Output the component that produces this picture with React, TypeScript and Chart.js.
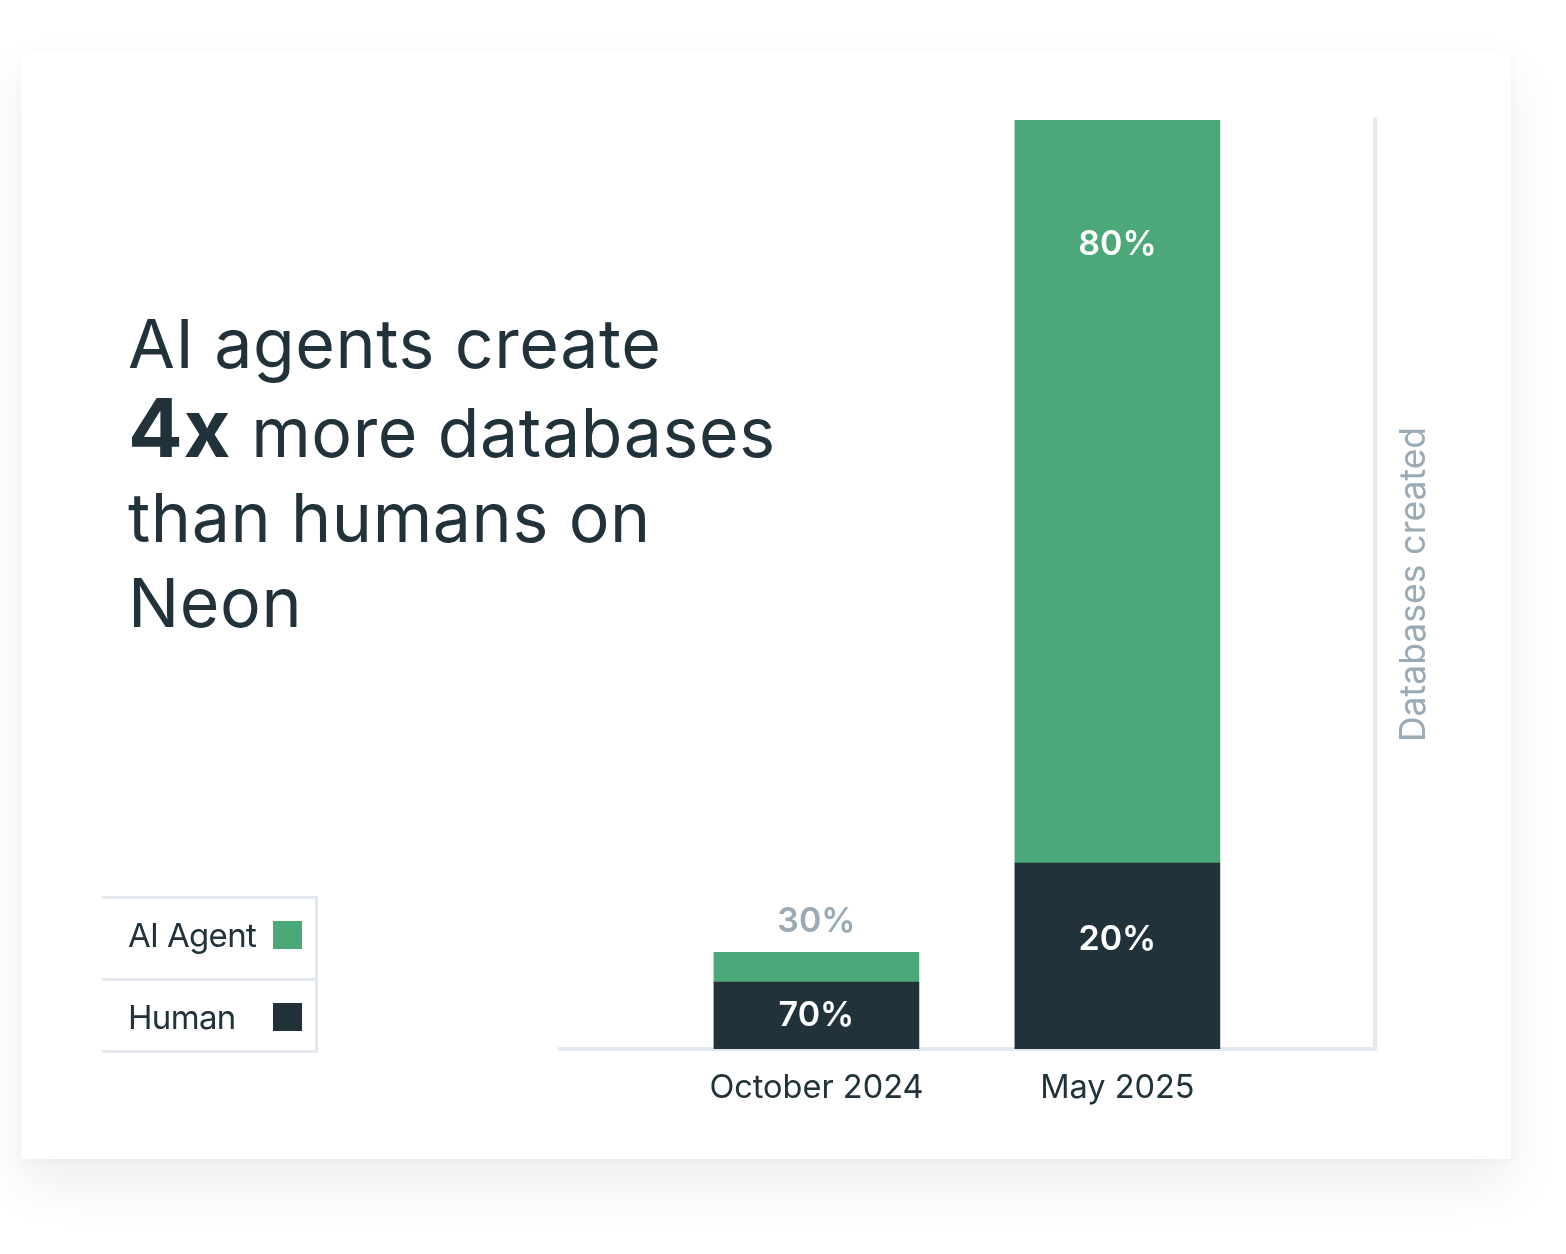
import React, { useEffect, useRef } from "react";
import { Chart, registerables } from "chart.js";

Chart.register(...registerables);

const categories = ["October 2024", "May 2025"];
const seriesNames = ["AI Agent", "Human"];
const humanValues = [7.2, 20];
const aiValues = [3.2, 80];
const humanShareLabels = ["70%", "20%"];
const aiShareLabels = ["30%", "80%"];
const titleLines = ["AI agents create", "4x", " more databases", "than humans on", "Neon"];
const yAxisTitle = "Databases created";

const GREEN = "#4ca878";
const DARK = "#21323a";
const AXIS = "#e4e9ef";
const GRAY = "#9aabb5";
const FONT = "Inter, 'Noto Sans', sans-serif";

const barLabelPlugin = {
  id: "barLabels",
  afterDatasetsDraw(chart: any) {
    const ctx = chart.ctx;
    ctx.save();
    ctx.textAlign = "center";
    ctx.textBaseline = "middle";
    ctx.font = `600 34px ${FONT}`;
    chart.data.datasets.forEach((ds: any, di: number) => {
      const meta = chart.getDatasetMeta(di);
      const labels = ds.shareLabels as string[];
      meta.data.forEach((bar: any, i: number) => {
        const top = Math.min(bar.y, bar.base);
        const h = Math.abs(bar.base - bar.y);
        let y: number;
        if (h < 50) {
          ctx.fillStyle = GRAY;
          y = top - 31;
        } else {
          ctx.fillStyle = "#ffffff";
          y = h < 100 ? top + h / 2 : top + Math.min(h * 0.41, 125);
        }
        ctx.fillText(labels[i], bar.x, y);
      });
    });
    ctx.restore();
  },
};

const yTitlePlugin = {
  id: "yTitle",
  afterDraw(chart: any) {
    const { ctx, chartArea } = chart;
    ctx.save();
    ctx.translate(chartArea.right + 39, (chartArea.top + chartArea.bottom) / 2);
    ctx.rotate(-Math.PI / 2);
    ctx.textAlign = "center";
    ctx.textBaseline = "middle";
    ctx.font = `400 35.5px ${FONT}`;
    ctx.fillStyle = GRAY;
    ctx.fillText(yAxisTitle, 0, 0);
    ctx.restore();
  },
};

export default function App() {
  const canvasRef = useRef<HTMLCanvasElement | null>(null);

  useEffect(() => {
    document.body.style.margin = "0";
    const canvas = canvasRef.current;
    if (!canvas) return;
    const chart = new Chart(canvas, {
      type: "bar",
      data: {
        datasets: [
          {
            label: seriesNames[1],
            data: categories.map((_, i) => ({ x: i, y: humanValues[i] })),
            backgroundColor: DARK,
            borderWidth: 0,
            barThickness: 205,
            shareLabels: humanShareLabels,
          } as any,
          {
            label: seriesNames[0],
            data: categories.map((_, i) => ({ x: i, y: aiValues[i] })),
            backgroundColor: GREEN,
            borderWidth: 0,
            barThickness: 205,
            shareLabels: aiShareLabels,
          } as any,
        ],
      },
      options: {
        animation: false,
        responsive: false,
        layout: { padding: { left: 560, top: 120, right: 0, bottom: 0 } },
        plugins: { legend: { display: false }, tooltip: { enabled: false } },
        scales: {
          x: {
            type: "linear",
            stacked: true,
            offset: false,
            position: "bottom",
            min: -0.852,
            max: 1.856,
            grid: { display: false, drawTicks: false, offset: false },
            border: { display: true, color: AXIS, width: 4 },
            afterBuildTicks: (scale: any) => {
              scale.ticks = categories.map((_, i) => ({ value: i }));
            },
            afterFit: (scale: any) => {
              scale.height = 205;
            },
            ticks: {
              padding: 20,
              color: DARK,
              font: { family: FONT, size: 32.5, weight: 400 },
              maxRotation: 0,
              autoSkip: false,
              callback: (v: any) => categories[v] ?? "",
            },
          },
          y: {
            type: "linear",
            stacked: true,
            position: "right",
            min: 0,
            max: 100,
            grid: { display: false, drawTicks: false },
            border: { display: true, color: AXIS, width: 4 },
            ticks: { display: false },
            afterFit: (scale: any) => {
              scale.width = 191;
            },
          },
        },
      } as any,
      plugins: [barLabelPlugin, yTitlePlugin],
    });
    return () => chart.destroy();
  }, []);

  return (
    <div style={{ position: "relative", width: 1566, height: 1254, background: "#ffffff", overflow: "hidden" }}>
      <div
        style={{
          position: "absolute",
          left: 21,
          top: 50,
          width: 1490,
          height: 1109,
          background: "#ffffff",
          boxShadow: "0 26px 50px rgba(0,0,0,0.07), 0 2px 8px rgba(0,0,0,0.03)",
        }}
      />
      <canvas ref={canvasRef} width={1566} height={1254} style={{ position: "absolute", left: 0, top: 0 }} />
      <div
        style={{
          position: "absolute",
          left: 128,
          top: 301,
          fontFamily: FONT,
          fontSize: 68,
          lineHeight: "85px",
          color: DARK,
          letterSpacing: "0.009em",
          fontWeight: 400,
          whiteSpace: "nowrap",
        }}
      >
        <div>{titleLines[0]}</div>
        <div>
          <span style={{ fontWeight: 700, fontSize: 81, letterSpacing: "0.01em" }}>{titleLines[1]}</span>
          {titleLines[2]}
        </div>
        <div>{titleLines[3]}</div>
        <div>{titleLines[4]}</div>
      </div>
      <div
        style={{
          position: "absolute",
          left: 102,
          top: 896,
          width: 213,
          borderTop: `3px solid ${AXIS}`,
          borderRight: `3px solid ${AXIS}`,
          borderBottom: `3px solid ${AXIS}`,
          fontFamily: FONT,
          color: DARK,
        }}
      >
        {seriesNames.map((name, i) => (
          <div
            key={name}
            style={{
              position: "relative",
              height: i === 0 ? 79 : 69,
              borderBottom: i === 0 ? `3px solid ${AXIS}` : "none",
            }}
          >
            <span
              style={{
                position: "absolute",
                left: 26,
                top: 22,
                fontSize: 33,
                lineHeight: "28px",
                letterSpacing: "-0.02em",
                whiteSpace: "nowrap",
              }}
            >
              {name}
            </span>
            <span
              style={{
                position: "absolute",
                left: 171,
                top: 22,
                width: 29,
                height: 28,
                background: i === 0 ? GREEN : DARK,
              }}
            />
          </div>
        ))}
      </div>
    </div>
  );
}
